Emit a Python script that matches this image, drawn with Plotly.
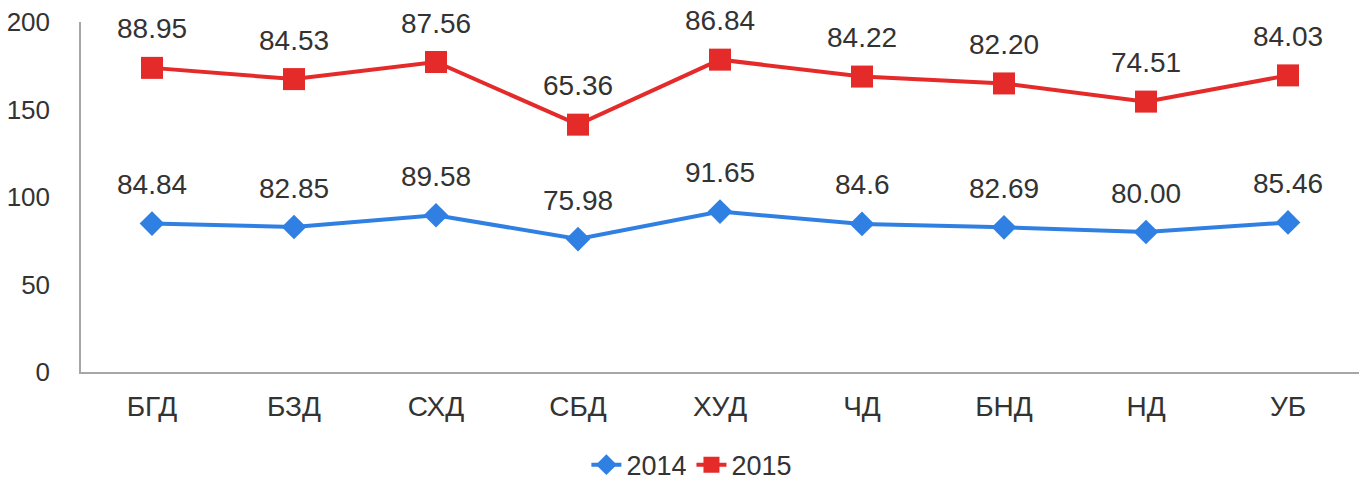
import plotly.graph_objects as go

categories = ["БГД", "БЗД", "СХД", "СБД", "ХУД", "ЧД", "БНД", "НД", "УБ"]
values_2014 = [84.84, 82.85, 89.58, 75.98, 91.65, 84.6, 82.69, 80.00, 85.46]
values_2015 = [88.95, 84.53, 87.56, 65.36, 86.84, 84.22, 82.20, 74.51, 84.03]
labels_2014 = ["84.84", "82.85", "89.58", "75.98", "91.65", "84.6", "82.69", "80.00", "85.46"]
labels_2015 = ["88.95", "84.53", "87.56", "65.36", "86.84", "84.22", "82.20", "74.51", "84.03"]
y_ticks = [0, 50, 100, 150, 200]

BLUE = "#2F80E2"
RED = "#E52A2A"
TXT = "#333333"
FONT = "Liberation Sans, Arial, sans-serif"

stacked_2015 = [a + b for a, b in zip(values_2014, values_2015)]

fig = go.Figure()
fig.add_trace(go.Scatter(
    x=categories, y=values_2014, name="2014", mode="lines+markers",
    line=dict(color=BLUE, width=4),
    marker=dict(symbol="diamond", size=19, color=BLUE),
))
fig.add_trace(go.Scatter(
    x=categories, y=stacked_2015, name="2015", mode="lines+markers",
    line=dict(color=RED, width=4),
    marker=dict(symbol="square", size=22, color=RED),
))

annotations = []
for c, y, t in zip(categories, values_2014, labels_2014):
    annotations.append(dict(x=c, y=y, text=t, showarrow=False, yshift=39,
                            font=dict(size=28, color=TXT, family=FONT)))
for c, y, t in zip(categories, stacked_2015, labels_2015):
    annotations.append(dict(x=c, y=y, text=t, showarrow=False, yshift=39,
                            font=dict(size=28, color=TXT, family=FONT)))

fig.update_layout(
    width=1365, height=481,
    margin=dict(l=81, r=6, t=22, b=109, autoexpand=False),
    paper_bgcolor="white", plot_bgcolor="white",
    font=dict(family=FONT, size=27, color=TXT),
    annotations=annotations,
    showlegend=True,
    legend=dict(orientation="h", x=0.478, xanchor="center", y=-0.266, yanchor="middle",
                font=dict(size=27, color=TXT)),
    xaxis=dict(type="category", range=[-0.5, 8.5], showgrid=False, zeroline=False,
               showline=True, linecolor="#A6A6A6", linewidth=2, ticks="",
               ticklabelstandoff=8, tickfont=dict(size=28, color=TXT)),
    yaxis=dict(range=[0, 200], tickvals=y_ticks, showgrid=False, zeroline=False,
               showline=True, linecolor="#A6A6A6", linewidth=1.5, ticks="",
               ticklabelstandoff=24, ticklabeloverflow="allow",
               tickfont=dict(size=26, color=TXT)),
)

# remove the default 8px body margin so the figure fills the window exactly
fig.write_html("out.html", config={"displayModeBar": False},
               post_script="document.body.style.margin='0';")
